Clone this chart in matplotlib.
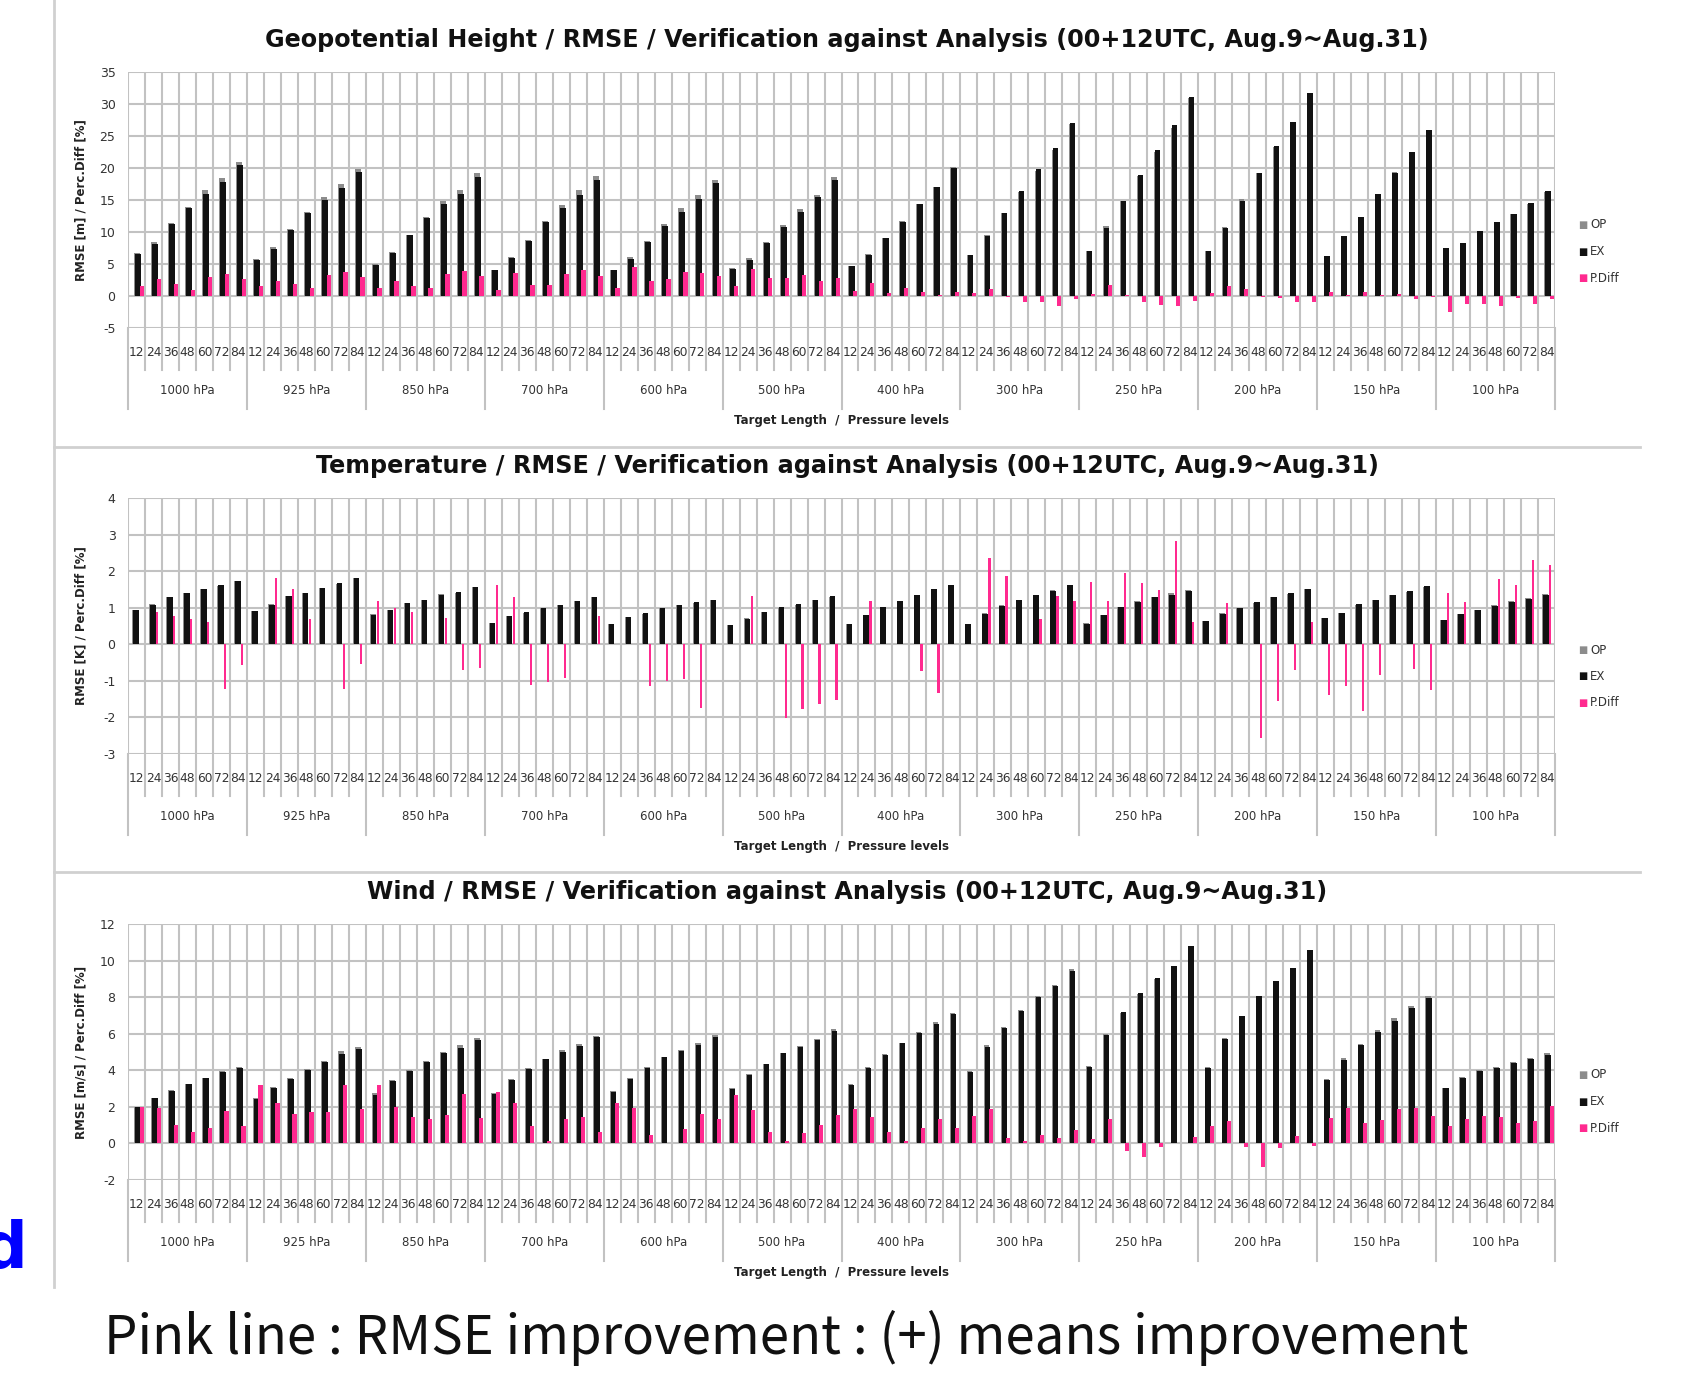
import numpy as np
import matplotlib.pyplot as plt

W, H = 1688, 1377

leads = ['12', '24', '36', '48', '60', '72', '84']
levels = ['1000 hPa', '925 hPa', '850 hPa', '700 hPa', '600 hPa', '500 hPa',
          '400 hPa', '300 hPa', '250 hPa', '200 hPa', '150 hPa', '100 hPa']

# geopotential height RMSE [m], 7 lead times per level
z_op = [6.7, 8.4, 11.4, 13.9, 16.5, 18.4, 20.9,
        5.8, 7.6, 10.5, 13.1, 15.5, 17.5, 19.9,
        5.0, 6.9, 9.6, 12.3, 14.8, 16.6, 19.2,
        4.1, 6.1, 8.7, 11.7, 14.2, 16.5, 18.8,
        4.1, 6.1, 8.6, 11.2, 13.7, 15.8, 18.2,
        4.3, 5.9, 8.5, 11.1, 13.6, 15.8, 18.6,
        4.7, 6.5, 9.0, 11.7, 14.4, 17.1, 20.1,
        6.4, 9.5, 13.0, 16.3, 19.6, 22.8, 26.9,
        7.1, 10.9, 14.9, 18.7, 22.5, 26.3, 30.9,
        7.0, 10.8, 15.1, 19.2, 23.3, 27.0, 31.4,
        6.2, 9.3, 12.4, 16.0, 19.3, 22.4, 25.8,
        7.3, 8.2, 10.0, 11.3, 12.8, 14.3, 16.3]
z_ex = [6.6, 8.2, 11.2, 13.8, 16.0, 17.8, 20.4,
        5.7, 7.4, 10.3, 12.9, 15.0, 16.8, 19.3,
        4.9, 6.7, 9.5, 12.2, 14.3, 16.0, 18.6,
        4.1, 5.9, 8.6, 11.5, 13.7, 15.8, 18.2,
        4.0, 5.8, 8.4, 10.9, 13.2, 15.2, 17.6,
        4.2, 5.7, 8.3, 10.8, 13.2, 15.4, 18.1,
        4.7, 6.4, 9.0, 11.6, 14.3, 17.1, 20.0,
        6.4, 9.4, 13.0, 16.4, 19.8, 23.2, 27.0,
        7.1, 10.7, 14.9, 18.9, 22.8, 26.7, 31.1,
        7.0, 10.6, 14.9, 19.2, 23.4, 27.2, 31.7,
        6.2, 9.3, 12.3, 16.0, 19.2, 22.5, 25.9,
        7.5, 8.3, 10.1, 11.5, 12.8, 14.5, 16.4]
z_pd = [1.5, 2.7, 1.8, 1.0, 2.9, 3.5, 2.6,
        1.5, 2.4, 1.8, 1.2, 3.3, 3.8, 2.9,
        1.2, 2.3, 1.5, 1.2, 3.5, 3.9, 3.1,
        0.9, 3.6, 1.7, 1.7, 3.5, 4.0, 3.2,
        1.3, 4.6, 2.4, 2.6, 3.8, 3.6, 3.1,
        1.5, 4.2, 2.8, 2.8, 3.3, 2.4, 2.8,
        0.8, 2.0, 0.4, 1.2, 0.7, 0.1, 0.7,
        0.4, 1.1, -0.2, -0.9, -1.0, -1.6, -0.5,
        0.3, 1.7, 0.1, -0.9, -1.4, -1.6, -0.8,
        0.5, 1.5, 1.1, -0.2, -0.3, -0.9, -1.0,
        0.6, 0.1, 0.6, 0.1, 0.3, -0.4, -0.2,
        -2.5, -1.2, -1.2, -1.6, -0.3, -1.3, -0.5]

# temperature RMSE [K]
t_op = [0.95, 1.09, 1.29, 1.41, 1.52, 1.59, 1.73,
        0.90, 1.10, 1.33, 1.41, 1.54, 1.66, 1.81,
        0.82, 0.95, 1.14, 1.22, 1.37, 1.41, 1.56,
        0.59, 0.77, 0.86, 0.98, 1.07, 1.17, 1.29,
        0.56, 0.74, 0.84, 0.98, 1.07, 1.13, 1.22,
        0.53, 0.71, 0.87, 0.99, 1.08, 1.20, 1.29,
        0.56, 0.80, 1.01, 1.19, 1.35, 1.48, 1.61,
        0.56, 0.85, 1.08, 1.22, 1.35, 1.49, 1.63,
        0.57, 0.81, 1.03, 1.17, 1.30, 1.40, 1.48,
        0.63, 0.85, 1.00, 1.12, 1.28, 1.38, 1.51,
        0.72, 0.85, 1.07, 1.20, 1.36, 1.44, 1.57,
        0.67, 0.83, 0.94, 1.07, 1.18, 1.26, 1.38]
t_ex = [0.95, 1.08, 1.28, 1.40, 1.51, 1.61, 1.74,
        0.90, 1.08, 1.31, 1.40, 1.54, 1.68, 1.82,
        0.81, 0.94, 1.13, 1.22, 1.36, 1.42, 1.57,
        0.58, 0.76, 0.87, 0.99, 1.08, 1.17, 1.28,
        0.56, 0.74, 0.85, 0.99, 1.08, 1.15, 1.22,
        0.53, 0.70, 0.87, 1.01, 1.10, 1.22, 1.31,
        0.56, 0.79, 1.01, 1.19, 1.36, 1.50, 1.61,
        0.56, 0.83, 1.06, 1.22, 1.34, 1.47, 1.61,
        0.56, 0.80, 1.01, 1.15, 1.28, 1.36, 1.47,
        0.63, 0.84, 1.00, 1.15, 1.30, 1.39, 1.50,
        0.73, 0.86, 1.09, 1.21, 1.36, 1.45, 1.59,
        0.66, 0.82, 0.94, 1.05, 1.16, 1.23, 1.35]
t_pd = [0.0, 0.88, 0.76, 0.69, 0.62, -1.23, -0.57,
        0.0, 1.80, 1.50, 0.70, 0.0, -1.21, -0.54,
        1.19, 1.00, 0.87, 0.0, 0.72, -0.71, -0.66,
        1.63, 1.29, -1.12, -1.03, -0.91, 0.0, 0.78,
        0.0, 0.0, -1.15, -1.00, -0.94, -1.73, 0.0,
        0.0, 1.31, 0.0, -2.02, -1.78, -1.62, -1.52,
        0.0, 1.19, 0.0, 0.0, -0.72, -1.33, 0.0,
        0.0, 2.37, 1.86, 0.0, 0.69, 1.31, 1.19,
        1.71, 1.19, 1.95, 1.68, 1.48, 2.82, 0.62,
        0.0, 1.12, 0.0, -2.57, -1.55, -0.71, 0.62,
        -1.38, -1.13, -1.82, -0.83, 0.0, -0.67, -1.25,
        1.40, 1.15, 0.0, 1.79, 1.61, 2.31, 2.16]

# wind RMSE [m/s]
w_op = [2.01, 2.51, 2.91, 3.27, 3.59, 3.96, 4.18,
        2.49, 3.08, 3.58, 4.08, 4.51, 5.03, 5.26,
        2.74, 3.48, 4.02, 4.49, 5.01, 5.38, 5.74,
        2.78, 3.55, 4.11, 4.63, 5.09, 5.43, 5.88,
        2.89, 3.59, 4.16, 4.74, 5.09, 5.47, 5.92,
        3.04, 3.81, 4.35, 4.94, 5.32, 5.72, 6.25,
        3.25, 4.17, 4.87, 5.48, 6.07, 6.62, 7.12,
        3.95, 5.39, 6.35, 7.27, 8.07, 8.65, 9.52,
        4.21, 6.01, 7.14, 8.15, 9.01, 9.71, 10.81,
        4.18, 5.76, 6.96, 7.97, 8.89, 9.62, 10.57,
        3.52, 4.65, 5.44, 6.19, 6.85, 7.54, 8.06,
        3.04, 3.64, 4.02, 4.17, 4.43, 4.66, 4.94]
w_ex = [1.97, 2.46, 2.88, 3.25, 3.56, 3.89, 4.14,
        2.41, 3.01, 3.52, 4.01, 4.43, 4.87, 5.16,
        2.65, 3.41, 3.96, 4.43, 4.93, 5.24, 5.66,
        2.70, 3.47, 4.07, 4.62, 5.02, 5.35, 5.84,
        2.83, 3.52, 4.14, 4.74, 5.05, 5.38, 5.84,
        2.96, 3.74, 4.32, 4.93, 5.29, 5.66, 6.15,
        3.19, 4.11, 4.84, 5.47, 6.02, 6.53, 7.06,
        3.89, 5.29, 6.33, 7.26, 8.03, 8.63, 9.45,
        4.20, 5.93, 7.17, 8.21, 9.03, 9.71, 10.77,
        4.14, 5.69, 6.97, 8.07, 8.91, 9.58, 10.58,
        3.47, 4.56, 5.38, 6.11, 6.72, 7.39, 7.94,
        3.01, 3.59, 3.96, 4.11, 4.38, 4.60, 4.84]
w_pd = [1.97, 1.95, 1.00, 0.60, 0.82, 1.79, 0.95,
        3.19, 2.19, 1.59, 1.70, 1.70, 3.19, 1.86,
        3.19, 1.97, 1.46, 1.33, 1.55, 2.68, 1.37,
        2.83, 2.19, 0.95, 0.15, 1.33, 1.46, 0.60,
        2.20, 1.92, 0.46, 0.05, 0.77, 1.61, 1.31,
        2.66, 1.82, 0.64, 0.15, 0.55, 1.00, 1.55,
        1.88, 1.46, 0.60, 0.15, 0.82, 1.33, 0.82,
        1.50, 1.86, 0.27, 0.15, 0.46, 0.27, 0.73,
        0.22, 1.33, -0.40, -0.72, -0.18, 0.05, 0.36,
        0.95, 1.24, -0.18, -1.28, -0.27, 0.40, -0.13,
        1.37, 1.95, 1.09, 1.28, 1.86, 1.95, 1.50,
        0.95, 1.33, 1.50, 1.46, 1.13, 1.24, 2.04]

OP_C = '#8c8c8c'
EX_C = '#111111'
PD_C = '#ff2a8f'
GRID_C = '#c2c2c2'

fig = plt.figure(figsize=(W / 100, H / 100), dpi=100)


def fx(px):
    return px / W


def fy(py):
    return 1 - py / H


def panel(top, ymin, ymax, step, op, ex, pd, title, ylabel, title_y, leg_y,
          offs, widths):
    ax = fig.add_axes([fx(128), fy(top + 256), (1555 - 128) / W, 256 / H])
    x = np.arange(84)
    ax.bar(x + offs[0], op, widths[0], color=OP_C, zorder=2)
    ax.bar(x + offs[1], ex, widths[1], color=EX_C, zorder=3)
    ax.bar(x + offs[2], pd, widths[2], color=PD_C, zorder=4)
    ax.set_xlim(0, 84)
    ax.set_ylim(ymin, ymax)
    yt = np.arange(ymin, ymax + step / 2, step)
    ax.hlines(yt, 0, 84, color=GRID_C, lw=1.5, zorder=1)
    ax.vlines(np.arange(85), ymin, ymax, color=GRID_C, lw=1.5, zorder=1)
    for s in ax.spines.values():
        s.set_visible(False)
    ax.set_xticks([])
    ax.set_yticks(yt)
    ax.set_yticklabels([f'{v:g}' for v in yt])
    ax.tick_params(axis='y', length=0, pad=9, labelsize=9, labelcolor='#333333')

    tr = ax.get_xaxis_transform()
    for c in range(85):
        depth = -0.318 if c % 7 == 0 else -0.164
        ax.plot([c, c], [0, depth], color=GRID_C, lw=1.5, transform=tr,
                clip_on=False)
    for c in range(84):
        ax.text(c + 0.5, -0.094, leads[c % 7], transform=tr, ha='center',
                va='center', fontsize=8.8, color='#333333')
    for g, lev in enumerate(levels):
        ax.text(g * 7 + 3.5, -0.246, lev, transform=tr, ha='center',
                va='center', fontsize=8.5, color='#333333')
    ax.text(42, -0.362, 'Target Length  /  Pressure levels', transform=tr,
            ha='center', va='center', fontsize=8.5, fontweight='bold',
            color='#222222')

    fig.text(fx(847), fy(title_y), title, ha='center', va='center',
             fontsize=17.2, fontweight='bold', color='#111111')
    fig.text(fx(81), fy(top + 128), ylabel, rotation=90, ha='center',
             va='center', fontsize=8.5, fontweight='bold', color='#222222')

    for k, (name, col) in enumerate([('OP', OP_C), ('EX', EX_C), ('P.Diff', PD_C)]):
        yy = fy(leg_y + 26.5 * k)
        fig.text(fx(1578), yy, '■', color=col, fontsize=7, ha='left', va='center')
        fig.text(fx(1590), yy, name, color='#333333', fontsize=8.5,
                 ha='left', va='center')
    return ax


panel(72, -5, 35, 5, z_op, z_ex, z_pd,
      'Geopotential Height / RMSE / Verification against Analysis (00+12UTC, Aug.9~Aug.31)',
      'RMSE [m] / Perc.Diff [%]', 40, 225,
      (0.55, 0.60, 0.81), (0.34, 0.34, 0.25))
panel(498, -3, 4, 1, t_op, t_ex, t_pd,
      'Temperature / RMSE / Verification against Analysis (00+12UTC, Aug.9~Aug.31)',
      'RMSE [K] / Perc.Diff [%]', 466, 650,
      (0.41, 0.46, 0.71), (0.33, 0.33, 0.13))
panel(924, -2, 12, 2, w_op, w_ex, w_pd,
      'Wind / RMSE / Verification against Analysis (00+12UTC, Aug.9~Aug.31)',
      'RMSE [m/s] / Perc.Diff [%]', 892, 1075,
      (0.54, 0.59, 0.80), (0.33, 0.33, 0.24))

# screenshot frame lines
fig.add_artist(plt.Line2D([fx(54), fx(54)], [fy(0), fy(1287)], color='#d0d0d0', lw=2))
for yy in (447, 872):
    fig.add_artist(plt.Line2D([fx(54), fx(1640)], [fy(yy), fy(yy)], color='#d0d0d0', lw=2))

fig.text(fx(27), fy(1268), 'd', color='#0000ff', fontsize=46, fontweight='bold',
         ha='right', va='baseline')
fig.text(fx(104), fy(1354), 'Pink line : RMSE improvement : (+) means improvement',
         fontsize=38, family=['Noto Sans CJK KR', 'DejaVu Sans'], ha='left',
         va='baseline', color='#111111')

fig.savefig('out.png', dpi=100, facecolor='white')
